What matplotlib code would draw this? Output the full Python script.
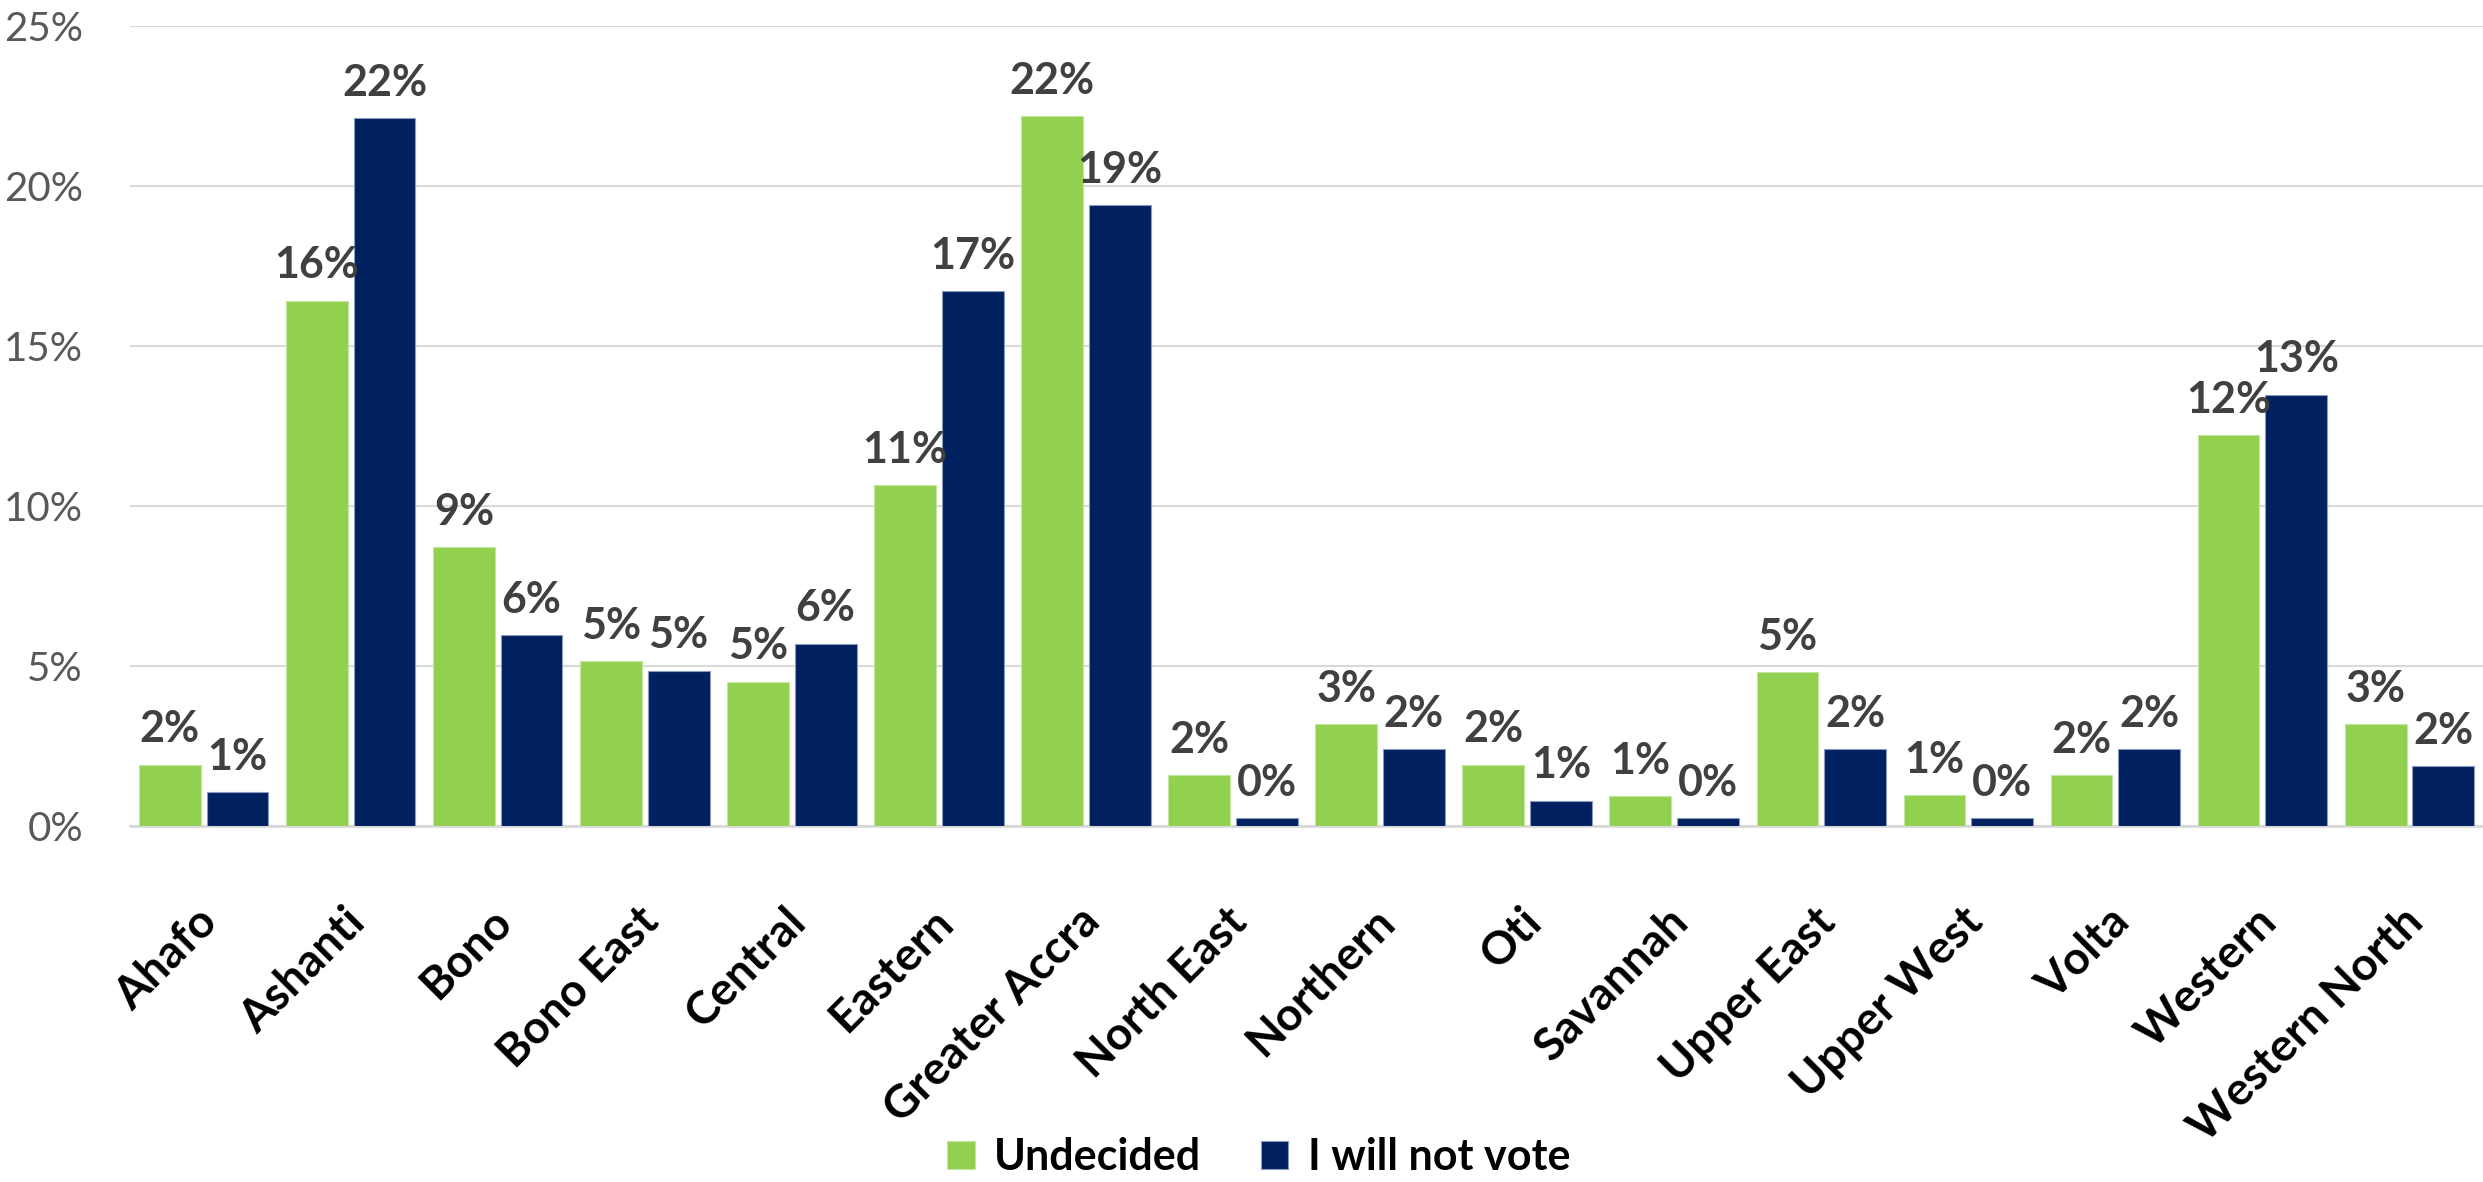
import matplotlib
matplotlib.use('Agg')
import matplotlib.pyplot as plt
import numpy as np
from matplotlib.ticker import FuncFormatter, MultipleLocator

regions = ['Ahafo', 'Ashanti', 'Bono', 'Bono East', 'Central', 'Eastern',
           'Greater Accra', 'North East', 'Northern', 'Oti', 'Savannah',
           'Upper East', 'Upper West', 'Volta', 'Western', 'Western North']
undecided = [1.92, 16.42, 8.73, 5.16, 4.52, 10.66, 22.18, 1.59, 3.2, 1.92,
             0.95, 4.81, 0.96, 1.59, 12.22, 3.19]
not_vote = [1.07, 22.12, 5.96, 4.86, 5.7, 16.71, 19.4, 0.25, 2.41, 0.8,
            0.25, 2.41, 0.25, 2.41, 13.48, 1.87]
series_names = ['Undecided', 'I will not vote']

GREEN = '#92D050'
NAVY = '#002060'

fig = plt.figure(figsize=(24.83, 11.82), dpi=100)
ax = fig.add_axes([0.0524, 0.301, 0.9476, 0.677])

x = np.arange(len(regions))
w = 0.42
b1 = ax.bar(x - 0.23, undecided, w, color=GREEN, edgecolor='#c5e6a3', linewidth=0.8,
            label=series_names[0], zorder=3)
b2 = ax.bar(x + 0.23, not_vote, w, color=NAVY, edgecolor='#8a9bbd', linewidth=0.8,
            label=series_names[1], zorder=3)

# percentage labels above each bar
for bars in (b1, b2):
    ax.bar_label(bars, labels=[f'{v:.0f}%' for v in bars.datavalues], padding=11,
                 fontsize=31, fontweight='bold', color='#404040', family='Lato')

ax.set_xlim(-0.5, len(regions) - 0.5)
ax.set_ylim(0, 25)
ax.yaxis.set_major_locator(MultipleLocator(5))
ax.yaxis.set_major_formatter(FuncFormatter(lambda v, p: f'{v:.0f}%'))
ax.grid(axis='y', color='#D9D9D9', linewidth=1.5, zorder=0)
ax.set_axisbelow(True)

for s in ['top', 'right', 'left']:
    ax.spines[s].set_visible(False)
ax.spines['bottom'].set_color('#D9D9D9')
ax.spines['bottom'].set_linewidth(2)

ax.tick_params(axis='y', length=0, pad=34, labelsize=29, labelcolor='#595959')
for t in ax.get_yticklabels():
    t.set_family('Lato')

ax.set_xticks(x + 0.05)
ax.set_xticklabels(regions, rotation=45, ha='right', va='center',
                   rotation_mode='anchor', fontsize=33, fontweight='bold',
                   family='Lato')
ax.tick_params(axis='x', length=0, pad=64)

leg = fig.legend(handles=[b1, b2], labels=series_names, loc='center',
                 bbox_to_anchor=(0.507, 0.021), ncol=2, frameon=False,
                 prop={'family': 'Lato', 'weight': 'bold', 'size': 31},
                 handlelength=0.63, handleheight=0.63, handletextpad=0.45,
                 columnspacing=1.4)

plt.savefig('out.png', dpi=100)
plt.close()
